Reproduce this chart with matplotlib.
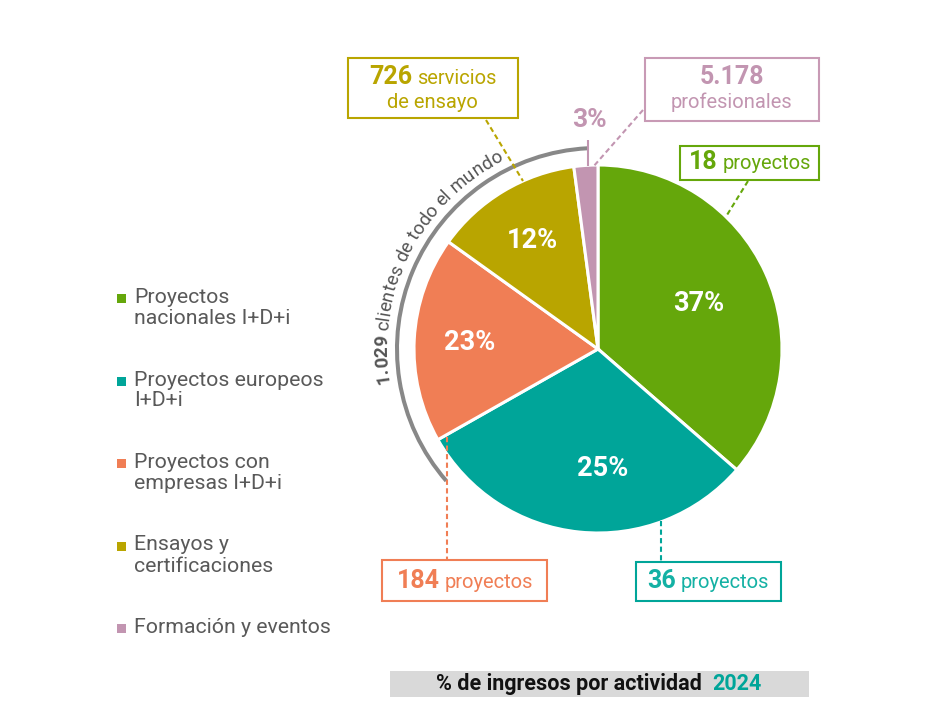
import numpy as np
import matplotlib
matplotlib.use("Agg")
import matplotlib.pyplot as plt
from matplotlib.patches import Rectangle, Arc
from matplotlib.textpath import TextToPath
from matplotlib.font_manager import FontProperties

# ---------------- data ----------------
categories = ["Proyectos\nnacionales I+D+i", "Proyectos europeos\nI+D+i",
              "Proyectos con\nempresas I+D+i", "Ensayos y\ncertificaciones",
              "Formación y eventos"]
slice_shares = [36.4, 30.4, 18.1, 13.0, 2.1]          # drawn wedge sizes
pct_labels = ["37%", "25%", "23%", "12%", "3%"]       # printed labels
colors = ["#65a70b", "#00a599", "#f07e55", "#b9a500", "#c295b1"]
callout_numbers = ["18", "36", "184", "726", "5.178"]
callout_units = ["proyectos", "proyectos", "proyectos", "servicios", "profesionales"]
callout_second_line = ["", "", "", "de ensayo", ""]
arc_number = "1.029"
arc_rest = " clientes de todo el mundo"
title_text = "% de ingresos por actividad"
title_year = "2024"

# ---------------- setup ----------------
W, H = 926, 728
FONT = "Roboto"
plt.rcParams["font.family"] = [FONT, "DejaVu Sans"]
fig = plt.figure(figsize=(W / 100, H / 100), dpi=100)
ax = fig.add_axes([0, 0, 1, 1])

def Y(y):
    return H - y

_t2p = TextToPath()
def text_w(s, size, weight="normal"):
    fp = FontProperties(family=FONT, size=size, weight=weight)
    w, h, d = _t2p.get_text_width_height_descent(s, fp, ismath=False)
    return w * 100 / 72

def adv(c, size, weight="normal"):
    return text_w("|" + c + "|", size, weight) - text_w("||", size, weight)

# ---------------- pie ----------------
CX, CY, R = 598, 349, 184
wedges, _ = ax.pie(slice_shares, colors=colors, startangle=90, counterclock=False,
                   center=(CX, Y(CY)), radius=R,
                   wedgeprops=dict(edgecolor="white", linewidth=2.2))

label_r = [0.60, 0.65, 0.70, 0.69, 1.245]
label_dt = [0, 8, 0, 0, -1.6]
for i, w in enumerate(wedges):
    mid = np.deg2rad((w.theta1 + w.theta2) / 2 + label_dt[i])
    x = CX + R * label_r[i] * np.cos(mid)
    y = Y(CY) + R * label_r[i] * np.sin(mid)
    col = "white" if i < 4 else colors[4]
    size = 19.5 if i < 4 else 19
    ax.text(x, y, pct_labels[i], color=col, fontsize=size, fontweight="bold",
            ha="center", va="center")

# pink tick above small wedge
pw = wedges[4]
pm = np.deg2rad((pw.theta1 + pw.theta2) / 2)
px = CX + R * np.cos(pm)
ax.plot([px + 2, px + 2], [Y(140), Y(166)], color=colors[4], lw=1.5, solid_capstyle="butt")

# gray arc + curved text
ax.add_patch(Arc((CX, Y(CY)), 2 * 201, 2 * 201, theta1=93, theta2=221,
                 color="#888888", lw=2.9))
arc_chars = [(c, "bold") for c in arc_number] + [(c, "normal") for c in arc_rest]
ARC_SIZE = 13.5
advs = [adv(c, ARC_SIZE, wgt) for c, wgt in arc_chars]
L = sum(advs)
rt = 211
theta_c = np.deg2rad(153)
theta0 = theta_c + (L / 2) / rt
s = 0
for (c, wgt), a in zip(arc_chars, advs):
    th = theta0 - (s + a / 2) / rt
    x = CX + rt * np.cos(th)
    y = Y(CY) + rt * np.sin(th)
    ax.text(x, y, c, fontsize=ARC_SIZE, fontweight=wgt, color="#555555",
            rotation=np.rad2deg(th) - 90, rotation_mode="anchor",
            ha="center", va="baseline")
    s += a

# ---------------- callout boxes ----------------
def rich_line(cx, base, parts):
    widths = []
    for txt, size, wgt, col in parts:
        widths.append(text_w(txt, size, wgt) if txt.strip() else adv(txt, size, wgt))
    total = sum(widths)
    x = cx - total / 2
    for (txt, size, wgt, col), wd in zip(parts, widths):
        if txt.strip():
            ax.text(x, Y(base), txt, fontsize=size, fontweight=wgt, color=col,
                    ha="left", va="baseline")
        x += wd

def box(x0, y0, x1, y1, col):
    ax.add_patch(Rectangle((x0, Y(y1)), x1 - x0, y1 - y0, fill=False,
                           edgecolor=col, lw=1.5))

def dashed(p0, p1, col):
    ax.plot([p0[0], p1[0]], [Y(p0[1]), Y(p1[1])], color=col, lw=1.5,
            linestyle=(0, (2.5, 1.6)))

BIG, SMALL = 18, 14.5
teal_text = "#14b1a4"

# green: 18 proyectos
box(680, 146, 819, 180, colors[0])
rich_line(750, 169, [(callout_numbers[0], BIG, "bold", colors[0]), (" ", SMALL, "normal", colors[0]),
                     (callout_units[0], SMALL, "normal", colors[0])])
dashed((748, 181), (727, 215), colors[0])

# teal: 36 proyectos
box(636, 562, 781, 601, colors[1])
rich_line(708.5, 588, [(callout_numbers[1], BIG, "bold", teal_text), (" ", SMALL, "normal", teal_text),
                       (callout_units[1], SMALL, "normal", teal_text)])
dashed((661, 521), (661, 562), colors[1])

# orange: 184 proyectos
box(382, 560, 547, 601, colors[2])
rich_line(465, 588, [(callout_numbers[2], BIG, "bold", colors[2]), (" ", SMALL, "normal", colors[2]),
                     (callout_units[2], SMALL, "normal", colors[2])])
dashed((447, 437), (447, 560), colors[2])

# olive: 726 servicios de ensayo
box(348, 58, 518, 118, colors[3])
rich_line(433, 84, [(callout_numbers[3], BIG, "bold", colors[3]), (" ", SMALL, "normal", colors[3]),
                    (callout_units[3], SMALL, "normal", colors[3])])
rich_line(433, 108, [(callout_second_line[3], SMALL, "normal", colors[3])])
dashed((486, 120), (523, 181), colors[3])

# pink: 5.178 profesionales
box(645, 58, 819, 121, "#c89ab5")
rich_line(732, 84, [(callout_numbers[4], BIG, "bold", colors[4])])
rich_line(732, 108, [(callout_units[4], SMALL, "normal", colors[4])])
dashed((643, 110), (593, 167), colors[4])

# ---------------- legend ----------------
for i, (cat, col) in enumerate(zip(categories, colors)):
    base = 303 + i * 82.5
    ax.add_patch(Rectangle((117, Y(base)), 9, 9, facecolor=col, edgecolor="none"))
    for k, line in enumerate(cat.split("\n")):
        ax.text(134, Y(base + 21 * k), line, fontsize=15.3, color="#595959",
                ha="left", va="baseline")

# ---------------- title bar ----------------
ax.add_patch(Rectangle((390, Y(697)), 419, 26, facecolor="#d9d9d9", edgecolor="none"))
rich_line(599, 690, [(title_text, 15.5, "bold", "#111111"), ("  ", 15.5, "bold", "#111111"),
                     (title_year, 15.5, "bold", "#00a599")])

ax.set_xlim(0, W)
ax.set_ylim(0, H)
ax.set_aspect("equal")
ax.axis("off")
fig.savefig("out.png", dpi=100, facecolor="white")
